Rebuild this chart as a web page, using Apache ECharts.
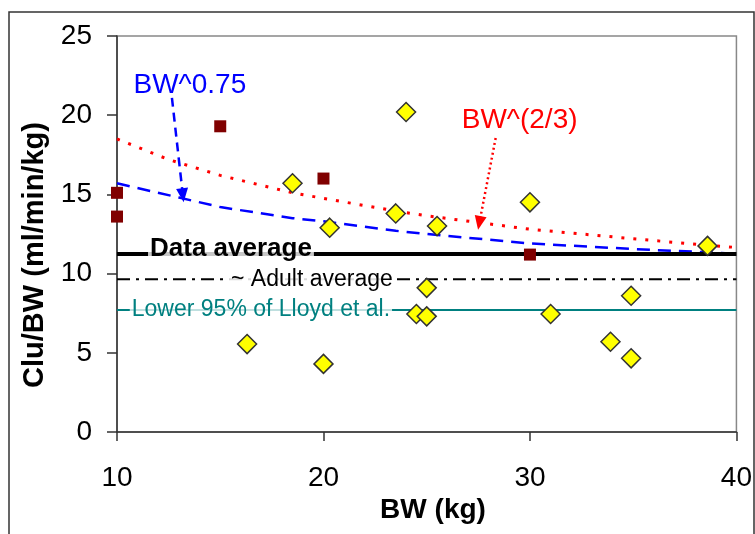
<!DOCTYPE html>
<html><head><meta charset="utf-8">
<script src="https://cdn.jsdelivr.net/npm/echarts@6/dist/echarts.min.js"></script>
<style>html,body{margin:0;padding:0;background:#fff}#c{width:755px;height:534px}</style>
</head><body><div id="c"></div>
<script>
// --- data ---
var xTicks = [10, 20, 30, 40];
var yTicks = [0, 5, 10, 15, 20, 25];
var squaresData = [[10, 15.1], [10, 13.6], [15, 19.3], [20, 16.0], [30, 11.2]];
var diamondsData = [
  [18.5, 15.7], [20.3, 12.9], [24.0, 20.2], [23.5, 13.8], [25.5, 13.0], [30.0, 14.5],
  [38.6, 11.75], [16.3, 5.55], [20.0, 4.3], [25.0, 9.1], [24.5, 7.45], [25.0, 7.3],
  [31.0, 7.45], [34.9, 8.6], [33.9, 5.7], [34.9, 4.65]
];
var bw075X = [10, 13, 15, 18.5, 20, 23.5, 25, 30, 35, 38.5, 40];
var bw075Y = [15.7, 14.8, 14.2, 13.5, 13.3, 12.7, 12.5, 11.9, 11.55, 11.35, 11.25];
var bw23X = [10, 12.5, 15, 18.5, 20, 23.5, 25, 30, 35, 38.5, 40];
var bw23Y = [18.5, 17.2, 16.2, 15.1, 14.75, 13.95, 13.65, 12.8, 12.2, 11.8, 11.65];
var dataAverage = 11.24;
var adultAverage = 9.65;
var lloydLower95 = 7.7;
var xRange = [10, 40];
// annotation texts and anchors (data coordinates)
var labelTexts = ['Data average', '~ Adult average', 'Lower 95% of Lloyd et al.', 'BW^0.75', 'BW^(2/3)'];
var labelAnchors = [[15.52, 11.55], [19.44, 9.6], [16.97, 7.7], [13.53, 21.9], [29.5, 19.7]];
var arrowBlue = [[12.66, 21.1], [13.19, 14.95]];
var arrowRed = [[28.34, 18.56], [27.55, 13.2]];

function zip(xs, ys) { return xs.map(function (x, i) { return [x, ys[i]]; }); }
function hline(v) { return [[xRange[0], v], [xRange[1], v]]; }

var FONT = '"Liberation Sans", Arial, sans-serif';
var chart = echarts.init(document.getElementById('c'), null, { renderer: 'canvas' });

var axisLineStyle = { color: '#333', width: 1.5 };
chart.setOption({
  animation: false,
  backgroundColor: '#fff',
  grid: { left: 117, right: 18, top: 36, bottom: 102, show: true, borderColor: '#888', borderWidth: 1.5 },
  xAxis: {
    type: 'value', min: xTicks[0], max: xTicks[xTicks.length - 1], interval: 10,
    axisLine: { show: true, lineStyle: axisLineStyle },
    axisTick: { show: true, length: 9, lineStyle: axisLineStyle },
    splitLine: { show: false },
    axisLabel: { color: '#000', fontSize: 28, fontFamily: FONT, margin: 32 }
  },
  yAxis: {
    type: 'value', min: yTicks[0], max: yTicks[yTicks.length - 1], interval: 5,
    axisLine: { show: true, lineStyle: axisLineStyle },
    axisTick: { show: true, length: 10, lineStyle: axisLineStyle },
    splitLine: { show: false },
    axisLabel: { color: '#000', fontSize: 28, fontFamily: FONT, margin: 25 }
  },
  series: [
    { type: 'line', data: hline(lloydLower95), symbol: 'none', lineStyle: { color: '#008080', width: 2 }, z: 2 },
    { type: 'line', data: hline(adultAverage), symbol: 'none', lineStyle: { color: '#000', width: 2, type: [13, 6, 3, 6] }, z: 2 },
    { type: 'line', data: zip(bw23X, bw23Y), symbol: 'none', lineStyle: { color: '#ff0000', width: 3, type: [3, 9] }, z: 2 },
    { type: 'line', data: zip(bw075X, bw075Y), symbol: 'none', lineStyle: { color: '#0000ff', width: 2.5, type: [13, 8] }, z: 2 },
    { type: 'line', data: hline(dataAverage), symbol: 'none', lineStyle: { color: '#000', width: 4 }, z: 2,
      markLine: {
        silent: true, symbol: ['none', 'triangle'], symbolSize: [12, 14], label: { show: false },
        data: [
          [{ coord: arrowBlue[0], lineStyle: { color: '#0000ff', width: 2.5, type: [9, 6] } }, { coord: arrowBlue[1] }],
          [{ coord: arrowRed[0], lineStyle: { color: '#ff0000', width: 2.5, type: [2, 3] } }, { coord: arrowRed[1] }]
        ]
      }
    },
    { type: 'scatter', data: squaresData, symbol: 'rect', symbolSize: 12, itemStyle: { color: '#800000', opacity: 1 }, z: 4 },
    { type: 'scatter', data: diamondsData, symbol: 'diamond', symbolSize: 19,
      itemStyle: { color: '#ffff00', borderColor: '#333', borderWidth: 1.5, opacity: 1 }, z: 5 }
  ]
});

var styles = [
  { fontSize: 26, fontWeight: 'bold', fill: '#000', backgroundColor: 'rgba(255,255,255,0.78)' },
  { fontSize: 23, fontWeight: 'normal', fill: '#000', backgroundColor: 'rgba(255,255,255,0.85)' },
  { fontSize: 23, fontWeight: 'normal', fill: '#008080', backgroundColor: 'rgba(255,255,255,0.75)' },
  { fontSize: 28, fontWeight: 'normal', fill: '#0000ff', backgroundColor: null },
  { fontSize: 28, fontWeight: 'normal', fill: '#ff0000', backgroundColor: null }
];
var graphics = [
  { type: 'rect', shape: { x: 9, y: 12, width: 745, height: 600 }, style: { fill: 'none', stroke: '#333', lineWidth: 1.5 }, silent: true, z: 0 },
  { type: 'text', x: 35, y: 255, rotation: Math.PI / 2, style: { text: 'Clu/BW (ml/min/kg)', fontSize: 29, fontWeight: 'bold', fontFamily: FONT, fill: '#000', align: 'center', verticalAlign: 'middle' }, z: 10 },
  { type: 'text', x: 433, y: 510, style: { text: 'BW (kg)', fontSize: 28, fontWeight: 'bold', fontFamily: FONT, fill: '#000', align: 'center', verticalAlign: 'middle' }, z: 10 }
];
labelTexts.forEach(function (t, i) {
  var p = chart.convertToPixel({ gridIndex: 0 }, labelAnchors[i]);
  var s = styles[i];
  graphics.push({
    type: 'text', x: p[0], y: p[1], z: 10,
    style: { text: t, fontSize: s.fontSize, fontWeight: s.fontWeight, fontFamily: FONT, fill: s.fill,
      align: 'center', verticalAlign: 'middle', backgroundColor: s.backgroundColor, padding: [0, 2] }
  });
});
chart.setOption({ graphic: graphics });
</script></body></html>
